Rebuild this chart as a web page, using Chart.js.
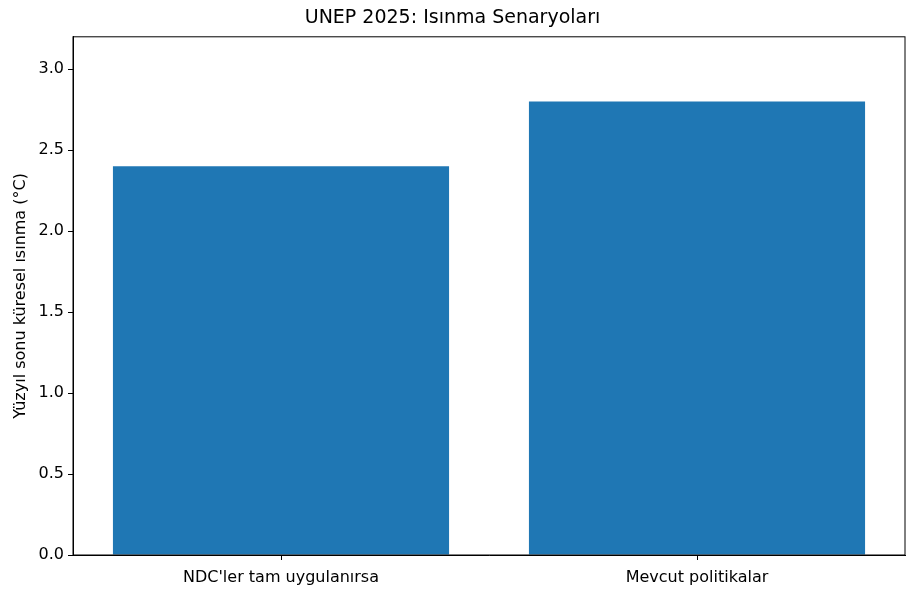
<!DOCTYPE html>
<html>
<head>
<meta charset="utf-8">
<script src="https://cdn.jsdelivr.net/npm/chart.js@4/dist/chart.umd.min.js"></script>
<style>
  html, body { margin: 0; padding: 0; background: #fff; }
  #wrap { width: 913px; height: 593px; }
</style>
</head>
<body>
<div id="wrap"><canvas id="warming"></canvas></div>
<script>
const categories = ["NDC'ler tam uygulanırsa", 'Mevcut politikalar'];
const warming = [2.4, 2.8];
const yTicks = [0.0, 0.5, 1.0, 1.5, 2.0, 2.5, 3.0];

// matplotlib-like frame around the plot area
const frame = {
  id: 'frame',
  afterDraw(chart) {
    const a = chart.chartArea, ctx = chart.ctx;
    ctx.save();
    ctx.strokeStyle = '#000';
    ctx.lineWidth = 1;
    ctx.strokeRect(a.left, a.top, a.right - a.left, a.bottom - a.top);
    ctx.restore();
  }
};

const font = "'DejaVu Sans', sans-serif";

new Chart(document.getElementById('warming').getContext('2d'), {
  type: 'bar',
  data: {
    labels: categories,
    datasets: [{
      label: 'Isınma',
      data: warming,
      backgroundColor: '#1f77b4',
      barPercentage: 0.808,
      categoryPercentage: 1.0
    }]
  },
  options: {
    responsive: true,
    maintainAspectRatio: false,
    animation: false,
    layout: { padding: { left: 0, right: 8, top: 0, bottom: 0 } },
    plugins: {
      legend: { display: false },
      tooltip: { enabled: false },
      title: {
        display: true,
        text: 'UNEP 2025: Isınma Senaryoları',
        color: '#000',
        font: { family: font, size: 19, weight: 'normal' },
        padding: { top: 7, bottom: 7 }
      }
    },
    scales: {
      x: {
        grid: { offset: false, drawOnChartArea: false, drawTicks: true, tickLength: 5, color: '#000' },
        border: { color: '#000' },
        ticks: { color: '#000', font: { family: font, size: 16 }, padding: 8 },
        afterFit(s) { s.height = 38; }
      },
      y: {
        min: 0,
        max: 3.2,
        afterBuildTicks(s) { s.ticks = yTicks.map(v => ({ value: v })); },
        grid: { drawOnChartArea: false, drawTicks: true, tickLength: 5, color: '#000' },
        border: { color: '#000' },
        ticks: {
          color: '#000',
          font: { family: font, size: 16 },
          padding: 4,
          callback: v => v.toFixed(1)
        },
        title: {
          display: true,
          text: 'Yüzyıl sonu küresel ısınma (°C)',
          color: '#000',
          font: { family: font, size: 16 },
          padding: { top: 11, bottom: 6 }
        },
        afterFit(s) { s.width = 73; }
      }
    }
  },
  plugins: [frame]
});
</script>
</body>
</html>
